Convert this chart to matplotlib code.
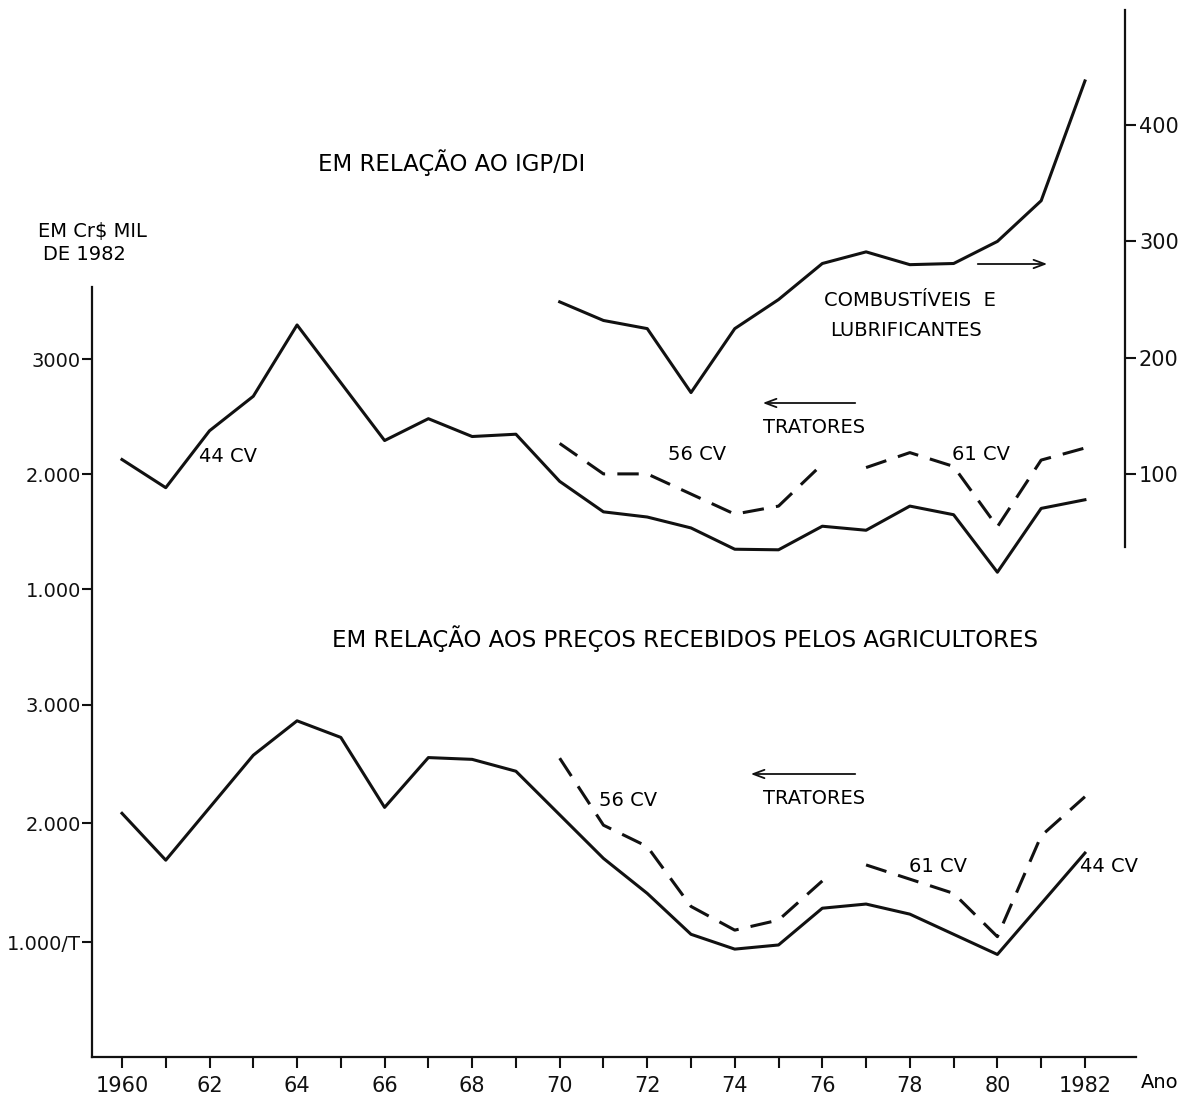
import matplotlib
matplotlib.use('Agg')
import matplotlib.pyplot as plt
from matplotlib.ticker import FixedLocator

plt.rcParams['font.family'] = ['DejaVu Sans']

# valores (Cr$ mil de 1982 e indice)
anos_44_igp = [1960, 1961, 1962, 1963, 1964, 1966, 1967, 1968, 1969, 1970, 1971,
               1972, 1973, 1974, 1975, 1976, 1977, 1978, 1979, 1980, 1981, 1982]
trat_44_igp = [2130, 1885, 2380, 2680, 3300, 2295, 2485, 2330, 2350, 1940, 1675,
               1630, 1535, 1350, 1345, 1550, 1515, 1725, 1650, 1150, 1705, 1780]
anos_56_igp = [1970, 1971, 1972, 1974, 1975, 1976]
trat_56_igp = [2270, 2005, 2005, 1655, 1725, 2090]
anos_61_igp = [1977, 1978, 1979, 1980, 1981, 1982]
trat_61_igp = [2060, 2190, 2070, 1545, 2125, 2230]
anos_comb = [1970, 1971, 1972, 1973, 1974, 1975, 1976, 1977, 1978, 1979, 1980, 1981, 1982]
comb_igp = [248, 232, 225, 170, 225, 250, 281, 291, 280, 281, 300, 335, 438]

anos_44_agr = [1960, 1961, 1963, 1964, 1965, 1966, 1967, 1968, 1969, 1971, 1972,
               1973, 1974, 1975, 1976, 1977, 1978, 1980, 1982]
trat_44_agr = [2085, 1690, 2575, 2865, 2725, 2135, 2555, 2540, 2440, 1705, 1410,
               1065, 940, 975, 1285, 1320, 1235, 895, 1750]
anos_56_agr = [1970, 1971, 1972, 1973, 1974, 1975, 1976]
trat_56_agr = [2550, 1985, 1805, 1300, 1100, 1185, 1515]
anos_61_agr = [1977, 1979, 1980, 1981, 1982]
trat_61_agr = [1650, 1410, 1045, 1895, 2225]

anos_rot = list(range(1960, 1983, 2))
rot_x = ['1960'] + [str(a)[2:] for a in anos_rot[1:-1]] + ['1982']
esq_sup = [1000, 2000, 3000]
rot_sup = ['1.000', '2.000', '3000']
esq_inf = [1000, 2000, 3000]
rot_inf = ['1.000/T', '2.000', '3.000']
dir_ticks = [100, 200, 300, 400]

W, H = 1194, 1102


def box(x0, y0, x1, y1):
    return [x0 / W, 1 - y1 / H, (x1 - x0) / W, (y1 - y0) / H]


def fx(x):
    return x / W


def fy(y):
    return 1 - y / H


fig = plt.figure(figsize=(W / 100, H / 100), dpi=100)
preto = '#111111'
lw = 2.2
tracos = (7, 4)

# eixo principal (precos recebidos pelos agricultores)
ax = fig.add_axes(box(92, 287, 1136, 1057))
ax.set_xlim(1959.315, 1983.167)
ax.set_ylim(30.4, 6522.8)
for s in ['top', 'right']:
    ax.spines[s].set_visible(False)
for s in ['left', 'bottom']:
    ax.spines[s].set_linewidth(1.6)
    ax.spines[s].set_color(preto)
ax.xaxis.set_major_locator(FixedLocator(anos_rot))
ax.xaxis.set_minor_locator(FixedLocator(list(range(1961, 1983, 2))))
ax.set_xticklabels(rot_x)
ax.tick_params(axis='x', which='both', direction='out', length=8, width=1.5,
               colors=preto, labelsize=15, pad=6)
ax.set_yticks(esq_inf)
ax.set_yticklabels(rot_inf)
ax.tick_params(axis='y', direction='out', length=7, width=1.5, colors=preto,
               labelsize=14, pad=1)

ax.plot(anos_44_agr, trat_44_agr, color=preto, lw=lw)
ax.plot(anos_56_agr, trat_56_agr, color=preto, lw=lw, dashes=tracos)
ax.plot(anos_61_agr, trat_61_agr, color=preto, lw=lw, dashes=tracos)

# eixo superior (em relacao ao IGP/DI)
ax_up = fig.add_axes(box(92, 287, 1136, 1057))
ax_up.patch.set_alpha(0)
ax_up.set_xlim(ax.get_xlim())
ax_up.set_ylim(-3065, 3630)
for s in ax_up.spines.values():
    s.set_visible(False)
ax_up.set_xticks([])
ax_up.set_yticks(esq_sup)
ax_up.set_yticklabels(rot_sup)
ax_up.tick_params(axis='y', direction='out', length=7, width=1.5, colors=preto,
                  labelsize=14, pad=1)
ax_up.plot(anos_44_igp, trat_44_igp, color=preto, lw=lw)
ax_up.plot(anos_56_igp, trat_56_igp, color=preto, lw=lw, dashes=tracos)
ax_up.plot(anos_61_igp, trat_61_igp, color=preto, lw=lw, dashes=tracos)

# eixo da direita (combustiveis e lubrificantes)
ax_r = fig.add_axes(box(92, 10, 1125, 547))
ax_r.patch.set_alpha(0)
ax_r.set_xlim(1959.315, 1982.915)
ax_r.set_ylim(37.2, 499)
for s in ['top', 'left', 'bottom']:
    ax_r.spines[s].set_visible(False)
ax_r.spines['right'].set_linewidth(1.6)
ax_r.spines['right'].set_color(preto)
ax_r.set_xticks([])
ax_r.yaxis.tick_right()
ax_r.set_yticks(dir_ticks)
ax_r.tick_params(axis='y', direction='out', length=8, width=1.5, colors=preto,
                 labelsize=15, pad=2)
ax_r.plot(anos_comb, comb_igp, color=preto, lw=lw)

# textos
fs = 14
fig.text(fx(452), fy(163), 'EM RELAÇÃO AO IGP/DI', ha='center', va='center', fontsize=16.5)
fig.text(fx(685), fy(639), 'EM RELAÇÃO AOS PREÇOS RECEBIDOS PELOS AGRICULTORES',
         ha='center', va='center', fontsize=16.5)
fig.text(fx(92), fy(231), 'EM Cr$ MIL', ha='center', va='center', fontsize=14)
fig.text(fx(84), fy(255), 'DE 1982', ha='center', va='center', fontsize=14)
fig.text(fx(910), fy(300), 'COMBUSTÍVEIS  E', ha='center', va='center', fontsize=fs)
fig.text(fx(906), fy(330), 'LUBRIFICANTES', ha='center', va='center', fontsize=fs)
fig.text(fx(814), fy(427), 'TRATORES', ha='center', va='center', fontsize=fs)
fig.text(fx(814), fy(798), 'TRATORES', ha='center', va='center', fontsize=fs)
fig.text(fx(697), fy(454), '56 CV', ha='center', va='center', fontsize=fs)
fig.text(fx(981), fy(455), '61 CV', ha='center', va='center', fontsize=fs)
fig.text(fx(228), fy(457), '44 CV', ha='center', va='center', fontsize=fs)
fig.text(fx(628), fy(800), '56 CV', ha='center', va='center', fontsize=fs)
fig.text(fx(938), fy(867), '61 CV', ha='center', va='center', fontsize=fs)
fig.text(fx(1109), fy(866), '44 CV', ha='center', va='center', fontsize=fs)
fig.text(fx(1160), fy(1082), 'Ano', ha='center', va='center', fontsize=14)

seta = dict(arrowstyle='->,head_length=0.8,head_width=0.3', lw=1.3, color=preto)
ax.annotate('', xy=(fx(1050), fy(264)), xytext=(fx(975), fy(264)),
            xycoords='figure fraction', textcoords='figure fraction', arrowprops=seta)
ax.annotate('', xy=(fx(760), fy(403)), xytext=(fx(858), fy(403)),
            xycoords='figure fraction', textcoords='figure fraction', arrowprops=seta)
ax.annotate('', xy=(fx(748), fy(774)), xytext=(fx(858), fy(774)),
            xycoords='figure fraction', textcoords='figure fraction', arrowprops=seta)

fig.savefig('out.png', dpi=100, facecolor='white')
